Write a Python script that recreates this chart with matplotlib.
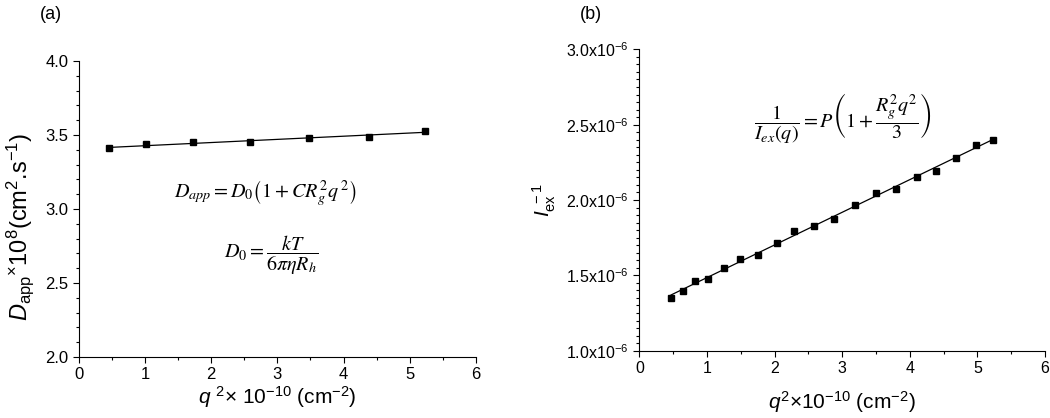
import numpy as np
import matplotlib.pyplot as plt
from matplotlib.ticker import MultipleLocator, FuncFormatter

plt.rcParams['font.family'] = 'Liberation Sans'
plt.rcParams['mathtext.fontset'] = 'custom'
plt.rcParams['mathtext.rm'] = 'Liberation Sans'
plt.rcParams['mathtext.it'] = 'Liberation Sans:italic'
plt.rcParams['mathtext.bf'] = 'Liberation Sans:bold'

# (a) apparent diffusion coefficient vs q^2
q2_a = [0.45, 1.01, 1.73, 2.58, 3.47, 4.39, 5.23]
dapp = [3.41, 3.44, 3.45, 3.45, 3.48, 3.49, 3.53]

# (b) inverse excess intensity vs q^2
q2_b = [0.47, 0.64, 0.82, 1.02, 1.25, 1.49, 1.75, 2.03, 2.29, 2.58,
        2.88, 3.19, 3.50, 3.80, 4.10, 4.38, 4.68, 4.98, 5.23]
iex_inv = [1.348e-6, 1.398e-6, 1.46e-6, 1.478e-6, 1.549e-6, 1.61e-6,
           1.635e-6, 1.717e-6, 1.794e-6, 1.83e-6, 1.872e-6, 1.965e-6,
           2.044e-6, 2.075e-6, 2.155e-6, 2.194e-6, 2.281e-6, 2.365e-6,
           2.40e-6]

fig = plt.figure(figsize=(10.5, 4.18), dpi=100)
axa = fig.add_axes([0.0752, 0.1459, 0.378, 0.708])
axb = fig.add_axes([0.6089, 0.161, 0.3864, 0.721])

for ax in (axa, axb):
    ax.spines['top'].set_visible(False)
    ax.spines['right'].set_visible(False)
    ax.tick_params(which='both', direction='out', width=0.8)
    ax.tick_params(which='major', length=4)
    ax.tick_params(which='minor', length=2.5)
    ax.set_xlim(0, 6)
    ax.xaxis.set_major_locator(MultipleLocator(1))
    ax.xaxis.set_minor_locator(MultipleLocator(0.5))
axa.tick_params(labelsize=12)
axb.tick_params(labelsize=11.5)

# panel a
xa = np.array(q2_a)
pa = np.polyfit(xa, dapp, 1)
axa.plot([xa[0], xa[-1]], np.polyval(pa, [xa[0], xa[-1]]), color='black', lw=0.9)
axa.plot(q2_a, dapp, 's', color='black', ms=4.5)
axa.set_ylim(2.0, 4.0)
axa.yaxis.set_major_locator(MultipleLocator(0.5))
axa.yaxis.set_minor_locator(MultipleLocator(0.1))
axa.yaxis.set_major_formatter(FuncFormatter(lambda v, p: '%.1f' % v))
axa.set_ylabel(r'$D_{\mathrm{app}}$$^{\times}$10$^8$(cm$^2$.s$^{-1}$)', fontsize=17)
axa.yaxis.set_label_coords(-0.107, 0.44)
axa.set_xlabel(r'$q$ $^2$$\times$ 10$^{-10}$ (cm$^{-2}$)', fontsize=15, labelpad=1)
axa.text(0.47, 0.55, r'$D_{app} = D_0\left(1 + CR_g^2q^{\,2}\right)$', transform=axa.transAxes,
         ha='center', va='center', fontsize=14.5, math_fontfamily='stix')
axa.text(0.485, 0.345, r'$D_0 = \dfrac{kT}{6\pi\eta R_h}$', transform=axa.transAxes,
         ha='center', va='center', fontsize=14.5, math_fontfamily='stix')
fig.text(0.038, 0.965, '(a)', fontsize=13, ha='left', va='center')

# panel b
xb = np.array(q2_b)
pb = np.polyfit(xb, iex_inv, 1)
axb.plot([xb[0], xb[-1]], np.polyval(pb, [xb[0], xb[-1]]), color='black', lw=0.9)
axb.plot(q2_b, iex_inv, 's', color='black', ms=4.5)
axb.set_ylim(1.0e-6, 3.0e-6)
axb.yaxis.set_major_locator(MultipleLocator(0.5e-6))
axb.yaxis.set_minor_locator(MultipleLocator(0.05e-6))
axb.yaxis.set_major_formatter(FuncFormatter(lambda v, p: '%.1fx10$^{-6}$' % (v * 1e6)))
axb.set_ylabel(r'$I_{\mathrm{ex}}^{\ -1}$', fontsize=15, labelpad=6)
axb.set_xlabel(r'$q^2$$\times$10$^{-10}$ (cm$^{-2}$)', fontsize=15, labelpad=9)
axb.text(0.50, 0.77, r'$\dfrac{1}{I_{ex}(q)} = P\left(1 + \dfrac{R_g^2q^2}{3}\right)$',
         transform=axb.transAxes, ha='center', va='center', fontsize=14.5, math_fontfamily='stix')
fig.text(0.552, 0.965, '(b)', fontsize=13, ha='left', va='center')

fig.savefig('out.png', dpi=100)
